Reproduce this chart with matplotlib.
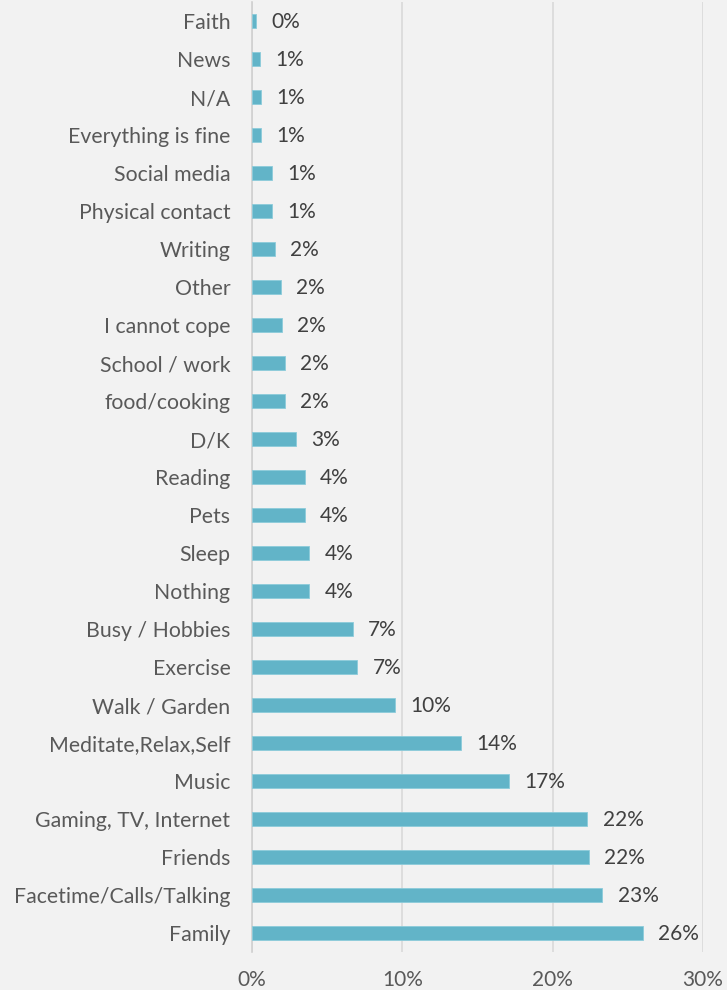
import matplotlib
matplotlib.use("Agg")
import matplotlib.pyplot as plt
from matplotlib.ticker import FuncFormatter

# Coping strategies, listed bottom to top
categories = [
    "Family", "Facetime/Calls/Talking", "Friends", "Gaming, TV, Internet", "Music",
    "Meditate,Relax,Self", "Walk / Garden", "Exercise", "Busy / Hobbies", "Nothing",
    "Sleep", "Pets", "Reading", "D/K", "food/cooking", "School / work",
    "I cannot cope", "Other", "Writing", "Physical contact", "Social media",
    "Everything is fine", "N/A", "News", "Faith",
]
shares = [
    26.0, 23.3, 22.4, 22.3, 17.1,
    13.9, 9.5, 7.0, 6.7, 3.8,
    3.8, 3.5, 3.5, 2.9, 2.2, 2.2,
    2.0, 1.9, 1.5, 1.3, 1.3,
    0.6, 0.6, 0.52, 0.27,
]
x_ticks = [0, 10, 20, 30]

BG = "#f2f2f2"
BAR = "#62b4c8"

plt.rcParams["font.family"] = ["Lato", "DejaVu Sans"]

fig = plt.figure(figsize=(7.27, 9.9), dpi=100, facecolor=BG)
ax = fig.add_axes([252 / 727, 38 / 990, 451 / 727, 950 / 990], facecolor=BG)

ypos = list(range(len(categories)))
ax.barh(ypos, shares, height=0.35, color=BAR, edgecolor="#8ccbda", linewidth=0.6, zorder=3)

for y, v in zip(ypos, shares):
    ax.annotate(f"{int(v + 0.5)}%", (v, y), xytext=(11, -1), textcoords="offset points",
                ha="left", va="center", fontsize=15, color="#404040")

ax.set_yticks(ypos)
ax.set_yticklabels(categories, fontsize=15.3, color="#595959")
ax.set_xticks(x_ticks)
ax.xaxis.set_major_formatter(FuncFormatter(lambda v, _: f"{v:.0f}%"))
ax.tick_params(axis="x", labelsize=15, labelcolor="#595959", length=0, pad=13)
ax.tick_params(axis="y", length=0, pad=15.5)
ax.set_xlim(0, 30)
ax.set_ylim(-0.5, len(categories) - 0.5)

ax.grid(axis="x", color="#d9d9d9", linewidth=1.2, zorder=0)
for side in ["top", "right", "bottom"]:
    ax.spines[side].set_visible(False)
ax.spines["left"].set_color("#d0d0d0")
ax.spines["left"].set_linewidth(1.2)

fig.savefig("out.png", dpi=100, facecolor=BG)
